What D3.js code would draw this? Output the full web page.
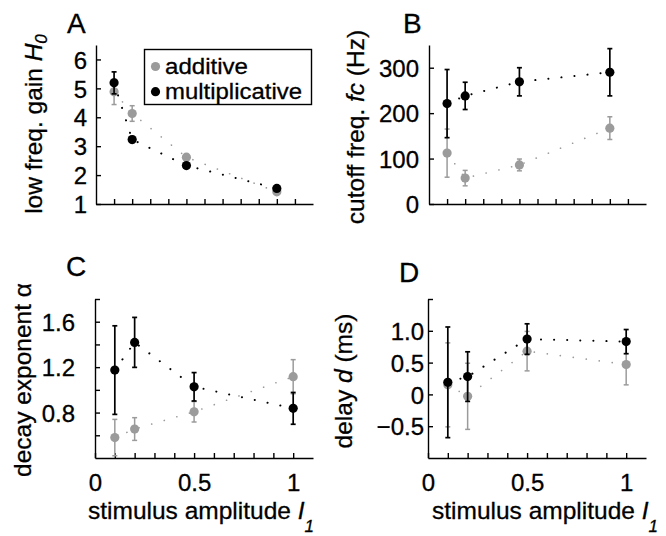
<!DOCTYPE html>
<html>
<head>
<meta charset="utf-8">
<script src="https://cdn.jsdelivr.net/npm/d3@7"></script>
<style>
  body { margin: 0; background: #fff; }
  svg { display: block; }
  text { stroke: #000; stroke-width: 0.3px; }
</style>
</head>
<body>
<div id="chart"></div>
<script>
// stimulus amplitudes (x values, same for every panel)
const amp = [0.1, 0.2, 0.5, 1.0];

// A: low freq. gain H0
const addH0 = [4.88, 4.13, 2.62, 1.42];
const addH0Err = [0.44, 0.27, 0.08, 0.06];
const mulH0 = [5.19, 3.23, 2.33, 1.54];
const mulH0Err = [0.38, 0.1, 0.08, 0.06];

// B: cutoff freq. fc (Hz)
const addFc = [112, 57, 86, 167];
const addFcErr = [53, 17, 13, 25];
const mulFc = [221, 238, 269, 290];
const mulFcErr = [75, 30, 31, 52];

// C: decay exponent alpha
const addAlpha = [0.58, 0.655, 0.807, 1.116];
const addAlphaErr = [0.16, 0.1, 0.09, 0.15];
const mulAlpha = [1.174, 1.418, 1.027, 0.837];
const mulAlphaErr = [0.39, 0.22, 0.125, 0.14];

// D: delay d (ms)
const addDelay = [0.15, -0.03, 0.68, 0.47];
const addDelayErr = [0.66, 0.52, 0.31, 0.32];
const mulDelay = [0.19, 0.28, 0.87, 0.83];
const mulDelayErr = [0.87, 0.39, 0.24, 0.19];

// ticks
const xTicksTop = [0.1, 0.2, 0.3, 0.4, 0.5, 0.6, 0.7, 0.8, 0.9, 1.0, 1.1];
const xTicksBottom = [0, 0.1, 0.2, 0.3, 0.4, 0.5, 0.6, 0.7, 0.8, 0.9, 1.0];
const xTickLabels = { 0: '0', 0.5: '0.5', 1: '1' };
const yTicksA = [1, 2, 3, 4, 5, 6];
const yTicksB = [0, 100, 200, 300];
const yTicksC = [0.6, 0.8, 1.0, 1.2, 1.4, 1.6, 1.8];
const yTickLabelsC = { 0.8: '0.8', 1.2: '1.2', 1.6: '1.6' };
const yTicksD = [-0.5, 0, 0.5, 1.0, 1.5];
const yTickLabelsD = { '-0.5': '\u22120.5', 0: '0', 0.5: '0.5', 1: '1.0' };

const seriesNames = ['additive', 'multiplicative'];
const gray = '#9b9b9b';
const font = "'Liberation Sans', Arial, Helvetica, sans-serif";

const svg = d3.select('#chart').append('svg')
    .attr('width', 666)
    .attr('height', 536);

// one panel = scales + axes + two series with error bars
function drawPanel(p) {
    const x = d3.scaleLinear().domain(p.xDomain).range([p.left, p.right]);
    const y = d3.scaleLinear().domain(p.yDomain).range([p.bottom, p.top]);
    const g = svg.append('g');

    // y axis, ticks pointing inward
    g.append('g')
        .attr('transform', 'translate(' + p.left + ',0)')
        .call(d3.axisLeft(y).tickValues(p.yTicks).tickSizeInner(-5).tickSizeOuter(0)
            .tickPadding(p.pad).tickFormat(p.yFormat))
        .call(ax => ax.selectAll('text').attr('font-size', 24).attr('font-family', font).attr('fill', '#000').attr('dy', '0.36em'))
        .call(ax => ax.selectAll('line, path').attr('stroke', '#000').attr('stroke-width', 1.4));

    // x axis
    g.append('g')
        .attr('transform', 'translate(0,' + p.bottom + ')')
        .call(d3.axisBottom(x).tickValues(p.xTicks).tickSizeInner(-5).tickSizeOuter(0)
            .tickPadding(16).tickFormat(p.xFormat))
        .call(ax => ax.selectAll('text').attr('font-size', 24).attr('font-family', font).attr('fill', '#000'))
        .call(ax => ax.selectAll('line, path').attr('stroke', '#000').attr('stroke-width', 1.4));

    const line = d3.line()
        .x(function (d) { return x(d[0]); })
        .y(function (d) { return y(d[1]); });

    const series = [
        { vals: p.add, errs: p.addErr, color: gray, dot: 1.6, w: 1.5 },
        { vals: p.mul, errs: p.mulErr, color: '#000', dot: 2, w: 1.7 }
    ];

    series.forEach(function (s) {
        const pts = amp.map(function (a, i) { return [a, s.vals[i], s.errs[i]]; });

        // dotted connecting line
        g.append('path')
            .datum(pts)
            .attr('d', line)
            .attr('fill', 'none')
            .attr('stroke', s.color)
            .attr('stroke-width', s.dot)
            .attr('stroke-linecap', 'round')
            .attr('stroke-dasharray', '0.1 13');

        // error bars
        const eb = g.append('g').selectAll('g').data(pts).enter().append('g')
            .attr('stroke', s.color).attr('stroke-width', s.w);
        eb.append('line')
            .attr('x1', d => x(d[0])).attr('x2', d => x(d[0]))
            .attr('y1', d => y(d[1] - d[2])).attr('y2', d => y(d[1] + d[2]));
        eb.append('line')
            .attr('x1', d => x(d[0]) - 2.5).attr('x2', d => x(d[0]) + 2.5)
            .attr('y1', d => y(d[1] - d[2])).attr('y2', d => y(d[1] - d[2]));
        eb.append('line')
            .attr('x1', d => x(d[0]) - 2.5).attr('x2', d => x(d[0]) + 2.5)
            .attr('y1', d => y(d[1] + d[2])).attr('y2', d => y(d[1] + d[2]));

        // markers
        g.append('g').selectAll('circle').data(pts).enter().append('circle')
            .attr('cx', d => x(d[0]))
            .attr('cy', d => y(d[1]))
            .attr('r', 4.6)
            .attr('fill', s.color);
    });

    // panel letter
    svg.append('text')
        .attr('x', p.letterX).attr('y', p.letterY)
        .attr('font-size', 28).attr('font-family', font)
        .text(p.letter);

    // y label (rotated)
    const yl = svg.append('text')
        .attr('transform', 'translate(' + p.ylX + ',' + p.ylY + ') rotate(-90)')
        .attr('text-anchor', 'middle')
        .attr('font-size', 24.5).attr('font-family', font);
    p.ylabel(yl);

    // x label
    if (p.xlabel) {
        const xl = svg.append('text')
            .attr('x', p.xlX).attr('y', 519)
            .attr('text-anchor', 'middle')
            .attr('font-size', 24.5).attr('font-family', font);
        xl.append('tspan').text('stimulus amplitude ');
        xl.append('tspan').attr('font-style', 'italic').text('I');
        xl.append('tspan').attr('font-style', 'italic').attr('font-size', 17).attr('dy', 13).text('1');
    }
    return { x: x, y: y };
}

const fmtTop = function () { return ''; };
const fmtBottom = function (d) { return xTickLabels[d] !== undefined ? xTickLabels[d] : ''; };

// A
drawPanel({
    left: 96, right: 313, top: 45, bottom: 204,
    xDomain: [0, 1.2], yDomain: [1, 6.5],
    xTicks: xTicksTop, xFormat: fmtTop,
    yTicks: yTicksA, yFormat: d3.format('d'), pad: 9,
    add: addH0, addErr: addH0Err, mul: mulH0, mulErr: mulH0Err,
    letter: 'A', letterX: 67, letterY: 33,
    ylX: 42, ylY: 124,
    ylabel: function (t) {
        t.append('tspan').text('low freq. gain ');
        t.append('tspan').attr('font-style', 'italic').text('H');
        t.append('tspan').attr('font-style', 'italic').attr('font-size', 17).attr('dy', '0.3em').text('0');
    }
});

// B
drawPanel({
    left: 429, right: 646, top: 45, bottom: 204,
    xDomain: [0, 1.2], yDomain: [0, 350],
    xTicks: xTicksTop, xFormat: fmtTop,
    yTicks: yTicksB, yFormat: d3.format('d'), pad: 10,
    add: addFc, addErr: addFcErr, mul: mulFc, mulErr: mulFcErr,
    letter: 'B', letterX: 403, letterY: 33,
    ylX: 364, ylY: 127,
    ylabel: function (t) {
        t.append('tspan').text('cutoff freq. ');
        t.append('tspan').attr('font-style', 'italic').text('fc');
        t.append('tspan').text(' (Hz)');
    }
});

// C
drawPanel({
    left: 95, right: 313, top: 299, bottom: 458,
    xDomain: [0, 1.1], yDomain: [0.4, 1.8],
    xTicks: xTicksBottom, xFormat: fmtBottom,
    yTicks: yTicksC, yFormat: function (d) { return yTickLabelsC[d] || ''; }, pad: 20,
    add: addAlpha, addErr: addAlphaErr, mul: mulAlpha, mulErr: mulAlphaErr,
    letter: 'C', letterX: 66, letterY: 276,
    ylX: 31, ylY: 380,
    ylabel: function (t) { t.text('decay exponent \u03b1'); },
    xlabel: true, xlX: 201
});

// D
drawPanel({
    left: 428, right: 646, top: 299, bottom: 458,
    xDomain: [0, 1.1], yDomain: [-1, 1.5],
    xTicks: xTicksBottom, xFormat: fmtBottom,
    yTicks: yTicksD, yFormat: function (d) { return yTickLabelsD[d] || ''; }, pad: 4,
    add: addDelay, addErr: addDelayErr, mul: mulDelay, mulErr: mulDelayErr,
    letter: 'D', letterX: 399, letterY: 282,
    ylX: 352, ylY: 381,
    ylabel: function (t) {
        t.append('tspan').text('delay ');
        t.append('tspan').attr('font-style', 'italic').text('d');
        t.append('tspan').text(' (ms)');
    },
    xlabel: true, xlX: 545
});

// legend in panel A
const legendWidths = [83, 137];
const legend = svg.append('g');
legend.append('rect')
    .attr('x', 144.5).attr('y', 49.5).attr('width', 167).attr('height', 55)
    .attr('fill', '#fff').attr('stroke', '#000').attr('stroke-width', 1.4);
legend.selectAll('circle').data(seriesNames).enter().append('circle')
    .attr('cx', 155.5)
    .attr('cy', (d, i) => 66.5 + i * 25.2)
    .attr('r', 4.6)
    .attr('fill', (d, i) => i === 0 ? gray : '#000');
legend.selectAll('text').data(seriesNames).enter().append('text')
    .attr('x', 165)
    .attr('y', (d, i) => 74 + i * 25.2)
    .attr('font-size', 22.5).attr('font-family', font)
    .attr('textLength', (d, i) => legendWidths[i])
    .attr('lengthAdjust', 'spacingAndGlyphs')
    .text(d => d);
</script>
</body>
</html>
